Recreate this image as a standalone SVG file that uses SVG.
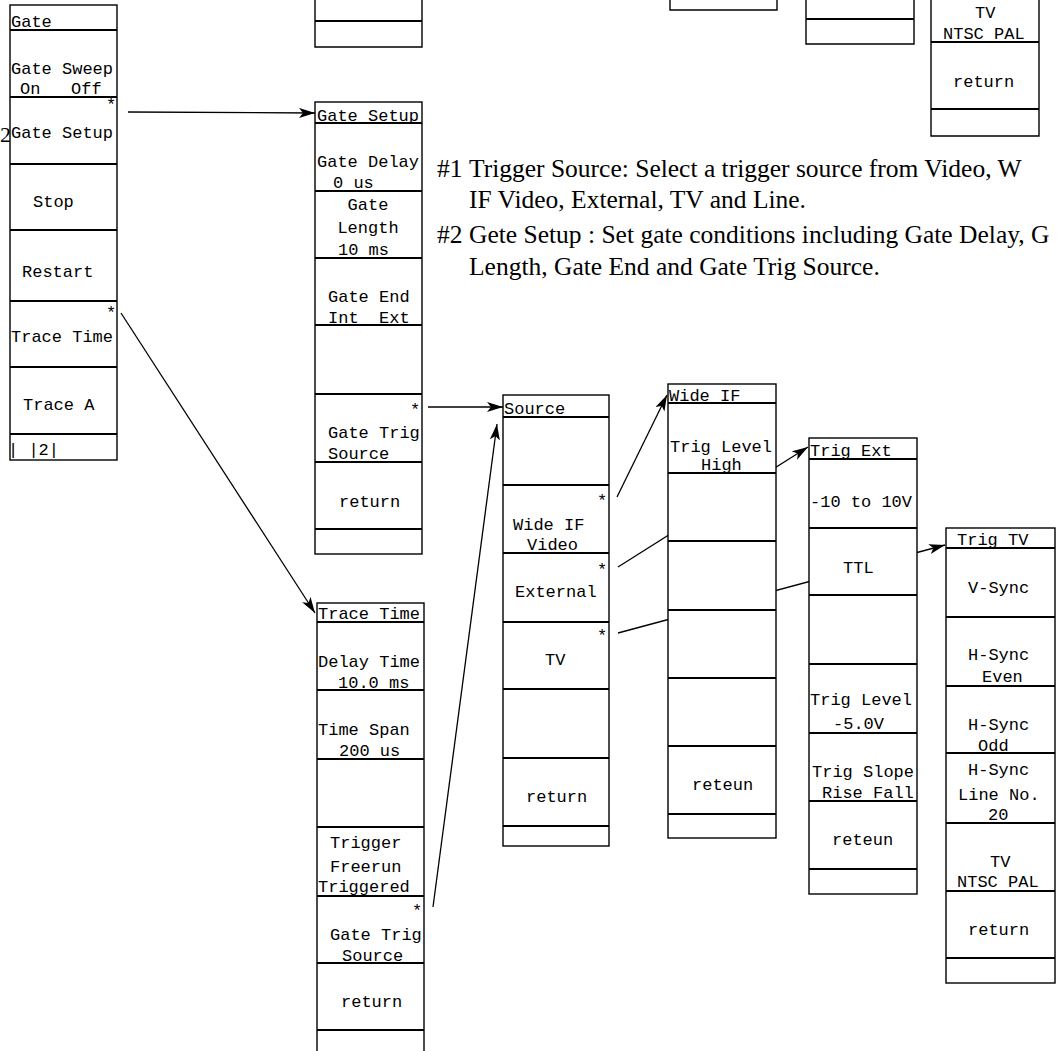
<svg xmlns="http://www.w3.org/2000/svg" width="1060" height="1051" viewBox="0 0 1060 1051">
<style>
.box{fill:#fff;stroke:#000;stroke-width:1.4}
.dv{stroke:#000;stroke-width:2}
.m{font-family:"Liberation Mono","Courier New",monospace;font-size:17px;fill:#000;white-space:pre}
.c{text-anchor:middle}
.t{font-family:"Liberation Serif","Times New Roman",serif;font-size:25.5px;fill:#000}
.cn{stroke:#000;stroke-width:1.3;fill:none}
</style>
<defs>
<marker id="ah" viewBox="0 0 16 10" refX="16" refY="5" markerWidth="16" markerHeight="10" markerUnits="userSpaceOnUse" orient="auto">
<path d="M0,0 L16,5 L0,10 L4,5 Z" fill="#000"/>
</marker>
</defs>

<g id="connectors">
<line class="cn" x1="128" y1="112" x2="315" y2="113" marker-end="url(#ah)"/>
<line class="cn" x1="121" y1="313" x2="315" y2="613" marker-end="url(#ah)"/>
<line class="cn" x1="428" y1="407" x2="503" y2="407" marker-end="url(#ah)"/>
<line class="cn" x1="433" y1="907" x2="497" y2="424" marker-end="url(#ah)"/>
<line class="cn" x1="617" y1="497" x2="667" y2="395" marker-end="url(#ah)"/>
<line class="cn" x1="618" y1="567" x2="808" y2="447" marker-end="url(#ah)"/>
<line class="cn" x1="618" y1="633" x2="945" y2="545" marker-end="url(#ah)"/>
</g>

<g id="label-2"><text class="t" x="0" y="142" style="font-size:22px">2</text></g>

<g id="gate">
<rect class="box" x="10" y="5" width="107" height="455"/>
<line class="dv" x1="10" y1="30" x2="117" y2="30"/>
<line class="dv" x1="10" y1="97" x2="117" y2="97"/>
<line class="dv" x1="10" y1="164" x2="117" y2="164"/>
<line class="dv" x1="10" y1="230" x2="117" y2="230"/>
<line class="dv" x1="10" y1="301" x2="117" y2="301"/>
<line class="dv" x1="10" y1="367" x2="117" y2="367"/>
<line class="dv" x1="10" y1="434" x2="117" y2="434"/>
<text class="m" x="11" y="27">Gate</text>
<text class="m" x="11" y="74">Gate Sweep</text>
<text class="m" x="20" y="94">On   Off</text>
<text class="m c" x="111" y="110">*</text>
<text class="m" x="11" y="138">Gate Setup</text>
<text class="m" x="33" y="207">Stop</text>
<text class="m" x="22" y="277">Restart</text>
<text class="m c" x="111" y="318">*</text>
<text class="m" x="11" y="342">Trace Time</text>
<text class="m" x="23" y="410">Trace A</text>
<text class="m" x="8" y="455">| |2|</text>
</g>

<g id="top-partial-1">
<path class="box" d="M315,-2 V47 H422 V-2"/>
<line class="dv" x1="315" y1="21" x2="422" y2="21"/>
</g>

<g id="top-partial-2">
<path class="box" d="M670,-2 V10 H777 V-2"/>
</g>

<g id="top-partial-3">
<path class="box" d="M806,-2 V44 H914 V-2"/>
<line class="dv" x1="806" y1="19" x2="914" y2="19"/>
</g>

<g id="top-partial-4">
<path class="box" d="M931,-2 V136 H1039 V-2"/>
<line class="dv" x1="931" y1="42" x2="1039" y2="42"/>
<line class="dv" x1="931" y1="109" x2="1039" y2="109"/>
<text class="m" x="975" y="18">TV</text>
<text class="m" x="943" y="39">NTSC PAL</text>
<text class="m" x="953" y="87">return</text>
</g>

<g id="gate-setup">
<rect class="box" x="315" y="102" width="107" height="452"/>
<line class="dv" x1="315" y1="123" x2="422" y2="123"/>
<line class="dv" x1="315" y1="191" x2="422" y2="191"/>
<line class="dv" x1="315" y1="258" x2="422" y2="258"/>
<line class="dv" x1="315" y1="325" x2="422" y2="325"/>
<line class="dv" x1="315" y1="394" x2="422" y2="394"/>
<line class="dv" x1="315" y1="462" x2="422" y2="462"/>
<line class="dv" x1="315" y1="529" x2="422" y2="529"/>
<text class="m" x="317" y="121">Gate Setup</text>
<text class="m" x="317" y="167">Gate Delay</text>
<text class="m" x="333" y="188">0 us</text>
<text class="m c" x="368" y="210">Gate</text>
<text class="m c" x="368" y="233">Length</text>
<text class="m" x="338" y="255">10 ms</text>
<text class="m" x="328" y="302">Gate End</text>
<text class="m" x="328" y="323">Int  Ext</text>
<text class="m c" x="415" y="415">*</text>
<text class="m" x="328" y="438">Gate Trig</text>
<text class="m" x="328" y="459">Source</text>
<text class="m" x="339" y="507">return</text>
</g>

<g id="trace-time">
<rect class="box" x="317" y="603" width="107" height="460"/>
<line class="dv" x1="317" y1="622" x2="424" y2="622"/>
<line class="dv" x1="317" y1="690" x2="424" y2="690"/>
<line class="dv" x1="317" y1="759" x2="424" y2="759"/>
<line class="dv" x1="317" y1="827" x2="424" y2="827"/>
<line class="dv" x1="317" y1="896" x2="424" y2="896"/>
<line class="dv" x1="317" y1="963" x2="424" y2="963"/>
<line class="dv" x1="317" y1="1030" x2="424" y2="1030"/>
<text class="m" x="318" y="619">Trace Time</text>
<text class="m" x="318" y="667">Delay Time</text>
<text class="m" x="338" y="688">10.0 ms</text>
<text class="m" x="318" y="735">Time Span</text>
<text class="m" x="339" y="756">200 us</text>
<text class="m" x="330" y="848">Trigger</text>
<text class="m" x="330" y="872">Freerun</text>
<text class="m" x="318" y="892">Triggered</text>
<text class="m c" x="417" y="916">*</text>
<text class="m" x="330" y="940">Gate Trig</text>
<text class="m" x="342" y="961">Source</text>
<text class="m" x="341" y="1007">return</text>
</g>

<g id="source">
<rect class="box" x="503" y="395" width="106" height="451"/>
<line class="dv" x1="503" y1="417" x2="609" y2="417"/>
<line class="dv" x1="503" y1="485" x2="609" y2="485"/>
<line class="dv" x1="503" y1="553" x2="609" y2="553"/>
<line class="dv" x1="503" y1="622" x2="609" y2="622"/>
<line class="dv" x1="503" y1="689" x2="609" y2="689"/>
<line class="dv" x1="503" y1="758" x2="609" y2="758"/>
<line class="dv" x1="503" y1="826" x2="609" y2="826"/>
<text class="m" x="504" y="414">Source</text>
<text class="m c" x="602" y="506">*</text>
<text class="m" x="513" y="530">Wide IF</text>
<text class="m" x="527" y="550">Video</text>
<text class="m c" x="602" y="575">*</text>
<text class="m" x="515" y="597">External</text>
<text class="m c" x="602" y="641">*</text>
<text class="m" x="545" y="665">TV</text>
<text class="m" x="526" y="802">return</text>
</g>

<g id="wide-if">
<rect class="box" x="668" y="384" width="108" height="454"/>
<line class="dv" x1="668" y1="403" x2="776" y2="403"/>
<line class="dv" x1="668" y1="473" x2="776" y2="473"/>
<line class="dv" x1="668" y1="541" x2="776" y2="541"/>
<line class="dv" x1="668" y1="610" x2="776" y2="610"/>
<line class="dv" x1="668" y1="678" x2="776" y2="678"/>
<line class="dv" x1="668" y1="746" x2="776" y2="746"/>
<line class="dv" x1="668" y1="814" x2="776" y2="814"/>
<text class="m" x="669" y="401">Wide IF</text>
<text class="m" x="670" y="452">Trig Level</text>
<text class="m" x="701" y="470">High</text>
<text class="m" x="692" y="790">reteun</text>
</g>

<g id="trig-ext">
<rect class="box" x="809" y="438" width="108" height="456"/>
<line class="dv" x1="809" y1="459" x2="917" y2="459"/>
<line class="dv" x1="809" y1="528" x2="917" y2="528"/>
<line class="dv" x1="809" y1="595" x2="917" y2="595"/>
<line class="dv" x1="809" y1="664" x2="917" y2="664"/>
<line class="dv" x1="809" y1="733" x2="917" y2="733"/>
<line class="dv" x1="809" y1="801" x2="917" y2="801"/>
<line class="dv" x1="809" y1="869" x2="917" y2="869"/>
<text class="m" x="810" y="456">Trig Ext</text>
<text class="m" x="810" y="507">-10 to 10V</text>
<text class="m" x="843" y="573">TTL</text>
<text class="m" x="810" y="705">Trig Level</text>
<text class="m" x="833" y="729">-5.0V</text>
<text class="m" x="812" y="777">Trig Slope</text>
<text class="m" x="822" y="798">Rise Fall</text>
<text class="m" x="832" y="845">reteun</text>
</g>

<g id="trig-tv">
<rect class="box" x="946" y="528" width="109" height="455"/>
<line class="dv" x1="946" y1="548" x2="1055" y2="548"/>
<line class="dv" x1="946" y1="617" x2="1055" y2="617"/>
<line class="dv" x1="946" y1="686" x2="1055" y2="686"/>
<line class="dv" x1="946" y1="753" x2="1055" y2="753"/>
<line class="dv" x1="946" y1="823" x2="1055" y2="823"/>
<line class="dv" x1="946" y1="891" x2="1055" y2="891"/>
<line class="dv" x1="946" y1="958" x2="1055" y2="958"/>
<text class="m" x="957" y="545">Trig TV</text>
<text class="m" x="968" y="593">V-Sync</text>
<text class="m" x="968" y="660">H-Sync</text>
<text class="m" x="982" y="682">Even</text>
<text class="m" x="968" y="730">H-Sync</text>
<text class="m" x="978" y="751">Odd</text>
<text class="m" x="968" y="775">H-Sync</text>
<text class="m" x="958" y="800">Line No.</text>
<text class="m" x="988" y="820">20</text>
<text class="m" x="990" y="867">TV</text>
<text class="m" x="957" y="887">NTSC PAL</text>
<text class="m" x="968" y="935">return</text>
</g>

<g id="notes">
<text class="t" x="437" y="177">#1</text>
<text class="t" x="469" y="177">Trigger Source: Select a trigger source from Video, W</text>
<text class="t" x="469" y="208">IF Video, External, TV and Line.</text>
<text class="t" x="437" y="243">#2</text>
<text class="t" x="469" y="243">Gete Setup : Set gate conditions including Gate Delay, G</text>
<text class="t" x="469" y="275">Length, Gate End and Gate Trig Source.</text>
</g>
</svg>
